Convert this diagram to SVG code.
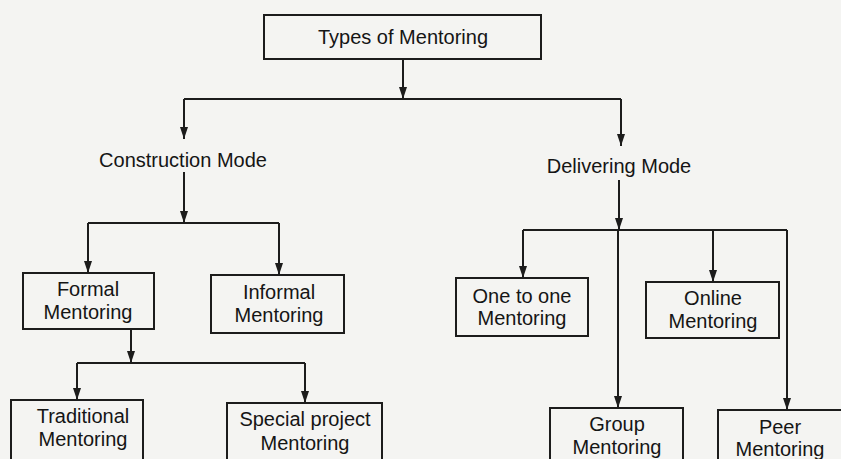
<svg xmlns="http://www.w3.org/2000/svg" width="841" height="459" viewBox="0 0 841 459">
<style>
.box{fill:none;stroke:#1c1c1c;stroke-width:2}
.ln{fill:none;stroke:#1c1c1c;stroke-width:2}
text{font-family:"Liberation Sans",Arial,sans-serif;font-size:20px;fill:#151515;text-anchor:middle}
</style>
<defs>
<marker id="ah" viewBox="0 0 12 8" refX="12" refY="4" markerWidth="12" markerHeight="8" markerUnits="userSpaceOnUse" orient="auto">
<path d="M0,0 L12,4 L0,8 Z" fill="#1c1c1c"/>
</marker>
</defs>
<rect width="841" height="459" fill="#f4f4f2"/>
<g id="connectors">
<path class="ln" d="M403,59 V99" marker-end="url(#ah)"/>
<path class="ln" d="M184,99 H621"/>
<path class="ln" d="M184,99 V139" marker-end="url(#ah)"/>
<path class="ln" d="M621,99 V146" marker-end="url(#ah)"/>
<path class="ln" d="M184,172 V223" marker-end="url(#ah)"/>
<path class="ln" d="M88,223 H279"/>
<path class="ln" d="M88,223 V273" marker-end="url(#ah)"/>
<path class="ln" d="M279,223 V275" marker-end="url(#ah)"/>
<path class="ln" d="M131,329 V363" marker-end="url(#ah)"/>
<path class="ln" d="M77,363 H305"/>
<path class="ln" d="M77,363 V400" marker-end="url(#ah)"/>
<path class="ln" d="M305,363 V403" marker-end="url(#ah)"/>
<path class="ln" d="M619,180 V230" marker-end="url(#ah)"/>
<path class="ln" d="M523,230 H787"/>
<path class="ln" d="M523,230 V278" marker-end="url(#ah)"/>
<path class="ln" d="M713,230 V282" marker-end="url(#ah)"/>
<path class="ln" d="M618,230 V408" marker-end="url(#ah)"/>
<path class="ln" d="M787,230 V410" marker-end="url(#ah)"/>
</g>
<g id="types-of-mentoring">
<rect class="box" x="264" y="15" width="277" height="44"/>
<text x="403" y="44">Types of Mentoring</text>
</g>
<g id="construction-mode">
<text x="183" y="167">Construction Mode</text>
</g>
<g id="delivering-mode">
<text x="619" y="173">Delivering Mode</text>
</g>
<g id="formal-mentoring">
<rect class="box" x="23" y="273" width="131" height="56"/>
<text x="88" y="296">Formal</text>
<text x="88" y="319">Mentoring</text>
</g>
<g id="informal-mentoring">
<rect class="box" x="211" y="275" width="133" height="58"/>
<text x="279" y="299">Informal</text>
<text x="279" y="322">Mentoring</text>
</g>
<g id="traditional-mentoring">
<rect class="box" x="11" y="400" width="132" height="70"/>
<text x="83" y="423">Traditional</text>
<text x="83" y="446">Mentoring</text>
</g>
<g id="special-project-mentoring">
<rect class="box" x="227" y="403" width="155" height="70"/>
<text x="305" y="426">Special project</text>
<text x="305" y="450">Mentoring</text>
</g>
<g id="one-to-one-mentoring">
<rect class="box" x="456" y="278" width="132" height="58"/>
<text x="522" y="303">One to one</text>
<text x="522" y="325">Mentoring</text>
</g>
<g id="online-mentoring">
<rect class="box" x="646" y="282" width="133" height="56"/>
<text x="713" y="305">Online</text>
<text x="713" y="328">Mentoring</text>
</g>
<g id="group-mentoring">
<rect class="box" x="550" y="408" width="133" height="70"/>
<text x="617" y="431">Group</text>
<text x="617" y="454">Mentoring</text>
</g>
<g id="peer-mentoring">
<rect class="box" x="718" y="410" width="140" height="70"/>
<text x="780" y="434">Peer</text>
<text x="780" y="456">Mentoring</text>
</g>
</svg>
